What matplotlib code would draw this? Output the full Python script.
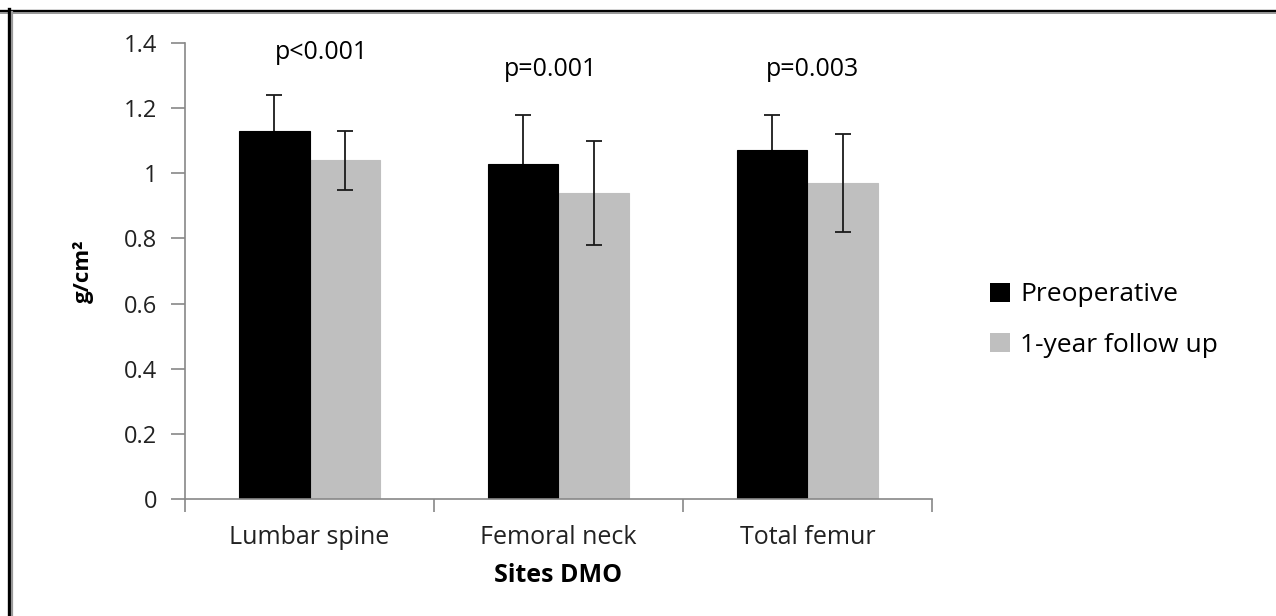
import matplotlib
matplotlib.use("Agg")
import matplotlib.pyplot as plt
from matplotlib.patches import Patch
from matplotlib.lines import Line2D
import numpy as np

plt.rcParams['font.family'] = ['Open Sans', 'DejaVu Sans']

categories = ["Lumbar spine", "Femoral neck", "Total femur"]
preop = [1.13, 1.03, 1.07]
preop_err = [0.11, 0.15, 0.11]
followup = [1.04, 0.94, 0.97]
followup_err = [0.09, 0.16, 0.15]
p_labels = ["p<0.001", "p=0.001", "p=0.003"]
p_y = [1.37, 1.32, 1.32]
p_dx = [0.05, -0.03, 0.02]
yticks = [0, 0.2, 0.4, 0.6, 0.8, 1.0, 1.2, 1.4]
ytick_labels = ["0", "0.2", "0.4", "0.6", "0.8", "1", "1.2", "1.4"]
series_names = ["Preoperative", "1-year follow up"]

fig = plt.figure(figsize=(12.76, 6.16), dpi=100)
ax = fig.add_axes([185/1276, 1-499/616, (932-185)/1276, (499-43)/616])

x = np.arange(len(categories))
w = 0.285
ax.bar(x + w/2, followup, width=w, color='#bfbfbf', edgecolor='#bfbfbf',
       linewidth=0.8, zorder=2)
ax.bar(x - w/2, preop, width=w, color='black', edgecolor='black',
       linewidth=0.8, zorder=2.1)
ax.errorbar(x - w/2, preop, yerr=preop_err, fmt='none', ecolor='#1a1a1a',
            elinewidth=1.3, capsize=6, capthick=1.3, zorder=1.5)
ax.errorbar(x + w/2, followup, yerr=followup_err, fmt='none', ecolor='#1a1a1a',
            elinewidth=1.3, capsize=6, capthick=1.3, zorder=3)

for i, (lab, yy, dx) in enumerate(zip(p_labels, p_y, p_dx)):
    ax.text(x[i] + dx, yy, lab, ha='center', va='center', fontsize=18, color='black')

ax.set_xlim(-0.5, len(categories) - 0.5)
ax.set_ylim(0, 1.4)
ax.set_yticks(yticks)
ax.set_yticklabels(ytick_labels, fontsize=17, color='#222222')
ax.set_xticks(x)
ax.set_xticklabels(categories, fontsize=18, color='#222222')
ax.tick_params(axis='x', length=0, pad=19)
ax.set_xticks(np.arange(-0.5, len(categories), 1.0), minor=True)
ax.tick_params(axis='x', which='minor', length=9, color='#888888', width=1.2)
ax.tick_params(axis='y', length=10, color='#888888', width=1.2, pad=10)

for s in ['top', 'right']:
    ax.spines[s].set_visible(False)
for s in ['left', 'bottom']:
    ax.spines[s].set_color('#888888')
    ax.spines[s].set_linewidth(1.2)
    ax.spines[s].set_zorder(3)

ax.set_ylabel("g/cm²", fontsize=16, fontweight='bold', va='center')
ax.yaxis.set_label_coords((83-185)/747, 0.5)
ax.set_xlabel("Sites DMO", fontsize=18, fontweight='bold', va='center')
ax.xaxis.set_label_coords(0.5, (499-575)/456)

handles = [Patch(facecolor='black', edgecolor='none'),
           Patch(facecolor='#bfbfbf', edgecolor='none')]
fig.legend(handles, series_names, loc='center left',
           bbox_to_anchor=(966/1276, 1-320/616), frameon=False,
           fontsize=19, handlelength=0.75, handleheight=0.75,
           handletextpad=0.4, labelspacing=0.95)

# figure border (top and left only)
fig.add_artist(Line2D([0, 1], [1-10.5/616, 1-10.5/616], color='black', lw=2.4,
                      transform=fig.transFigure))
fig.add_artist(Line2D([0, 1], [1-13/616, 1-13/616], color='#999999', lw=1.4,
                      transform=fig.transFigure))
fig.add_artist(Line2D([8.5/1276, 8.5/1276], [0, 1-9/616], color='black', lw=2.4,
                      transform=fig.transFigure))
fig.add_artist(Line2D([11.5/1276, 11.5/1276], [0, 1-12/616], color='#999999', lw=1.6,
                      transform=fig.transFigure))

fig.savefig("out.png", dpi=100)
